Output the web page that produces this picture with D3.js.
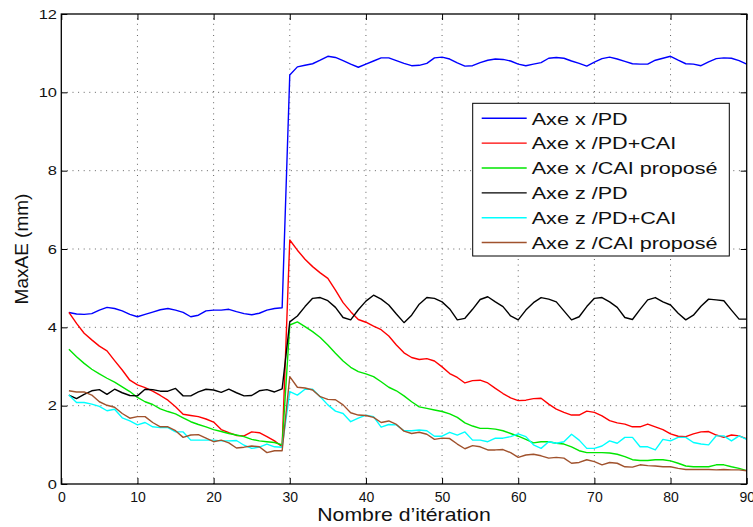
<!DOCTYPE html>
<html>
<head>
<meta charset="utf-8">
<script src="https://cdn.jsdelivr.net/npm/d3@7"></script>
<style>
  html, body { margin: 0; padding: 0; background: #fff; }
  svg { display: block; font-family: "Liberation Sans", Arial, Helvetica, sans-serif; }
</style>
</head>
<body>
<svg id="chart" width="753" height="527"></svg>
<script>
// Iteration index (x axis)
const iterations = d3.range(1, 91);

// MaxAE per iteration (mm)
const axeX_PD = [
  4.38,4.34,4.33,4.35,4.44,4.51,4.48,4.42,4.33,4.27,4.33,4.39,4.45,4.48,4.44,4.38,4.27,4.31,4.42,4.44,
  4.44,4.46,4.40,4.35,4.32,4.36,4.44,4.48,4.50,
  10.44,10.65,10.69,10.73,10.82,10.92,10.89,10.81,10.72,10.64,10.72,10.80,10.88,10.88,10.81,10.74,10.68,
  10.69,10.74,10.88,10.90,10.85,10.75,10.67,10.68,10.76,10.82,10.85,10.84,10.80,10.72,10.68,10.72,10.76,
  10.87,10.89,10.87,10.80,10.74,10.67,10.77,10.86,10.90,10.85,10.79,10.73,10.72,10.72,10.82,10.87,10.92,
  10.82,10.73,10.72,10.68,10.78,10.86,10.88,10.87,10.81,10.72
];
const axeX_PDCAI = [
  4.38,4.10,3.85,3.68,3.52,3.40,3.15,2.91,2.65,2.53,2.46,2.37,2.26,2.14,1.97,1.78,1.75,1.72,1.66,1.58,
  1.39,1.31,1.24,1.23,1.33,1.31,1.21,1.10,0.95,
  6.23,5.97,5.74,5.55,5.39,5.25,4.95,4.63,4.40,4.20,4.13,4.03,3.94,3.78,3.55,3.35,3.23,3.18,3.20,3.14,
  2.99,2.82,2.72,2.58,2.64,2.65,2.58,2.44,2.31,2.20,2.13,
  2.14,2.18,2.19,2.04,1.91,1.83,1.76,1.76,1.86,1.83,1.74,1.62,1.56,1.53,1.46,1.46,1.53,1.46,1.39,1.28,
  1.22,1.21,1.28,1.33,1.34,1.25,1.19,1.25,1.23,1.15
];
const axeX_CAI = [
  3.44,3.25,3.08,2.93,2.81,2.70,2.60,2.48,2.36,2.21,2.10,2.03,1.92,1.85,1.79,1.69,1.59,1.52,1.46,1.39,
  1.34,1.29,1.25,1.21,1.14,1.10,1.08,1.06,1.00,
  4.06,4.14,4.02,3.89,3.74,3.55,3.34,3.14,2.98,2.87,2.81,2.74,2.61,2.47,2.38,2.25,2.10,1.97,1.93,1.89,
  1.85,1.79,1.70,1.56,1.48,1.42,1.42,1.40,1.36,1.29,1.22,
  1.14,1.05,1.08,1.08,1.04,1.02,0.95,0.85,0.80,0.80,0.80,0.79,0.76,0.70,0.62,0.60,0.60,0.62,0.62,0.59,
  0.53,0.46,0.44,0.44,0.44,0.49,0.49,0.44,0.40,0.34
];
const axeZ_PD = [
  2.27,2.18,2.29,2.38,2.41,2.29,2.42,2.33,2.26,2.25,2.42,2.41,2.37,2.37,2.44,2.25,2.25,2.35,2.42,2.40,
  2.34,2.42,2.33,2.25,2.26,2.38,2.41,2.35,2.43,
  4.14,4.29,4.53,4.74,4.76,4.68,4.51,4.25,4.19,4.45,4.67,4.82,4.72,4.57,4.34,4.12,4.31,4.59,4.76,4.74,
  4.65,4.47,4.19,4.23,4.46,4.71,4.78,4.65,4.53,4.29,4.19,
  4.44,4.63,4.76,4.72,4.65,4.42,4.19,4.27,4.53,4.74,4.76,4.65,4.51,4.25,4.20,4.46,4.70,4.76,4.65,4.57,
  4.36,4.19,4.31,4.54,4.72,4.70,4.68,4.44,4.21,4.21
];
const axeZ_PDCAI = [
  2.27,2.08,2.08,2.04,1.98,1.87,1.91,1.69,1.61,1.51,1.57,1.46,1.44,1.44,1.33,1.33,1.12,1.12,1.12,1.12,
  1.10,1.10,1.11,0.99,0.91,0.94,1.02,0.95,0.94,
  2.36,2.27,2.42,2.42,2.23,2.02,1.86,1.80,1.59,1.68,1.76,1.72,1.45,1.52,1.51,1.36,1.36,1.38,1.36,1.22,
  1.22,1.32,1.25,1.33,1.12,1.12,1.08,1.17,1.17,1.21,1.28,
  1.21,1.00,0.91,1.08,1.04,1.08,1.27,1.12,0.91,0.91,0.97,1.10,1.04,1.19,1.19,0.95,0.95,0.87,1.14,1.10,
  1.19,1.19,1.06,1.02,1.00,1.23,1.23,1.10,1.23,1.14
];
const axeZ_CAI = [
  2.38,2.35,2.35,2.27,2.10,2.01,1.96,1.80,1.68,1.72,1.72,1.57,1.46,1.46,1.36,1.19,1.25,1.26,1.17,1.08,
  1.12,1.05,0.92,0.94,0.97,0.95,0.80,0.85,0.85,
  2.74,2.47,2.45,2.40,2.23,2.16,2.15,2.02,1.82,1.76,1.75,1.70,1.57,1.61,1.52,1.35,1.29,1.32,1.27,1.14,
  1.17,1.16,1.02,0.90,0.98,0.95,0.87,0.87,0.88,0.80,0.68,
  0.74,0.76,0.72,0.66,0.68,0.66,0.53,0.55,0.62,0.57,0.49,0.55,0.53,0.44,0.43,0.49,0.47,0.46,0.44,0.44,
  0.40,0.37,0.37,0.37,0.37,0.36,0.37,0.36,0.36,0.34
];

const seriesNames = ["Axe x /PD", "Axe x /PD+CAI", "Axe x /CAI proposé",
                     "Axe z /PD", "Axe z /PD+CAI", "Axe z /CAI proposé"];
const seriesValues = [axeX_PD, axeX_PDCAI, axeX_CAI, axeZ_PD, axeZ_PDCAI, axeZ_CAI];
const seriesColors = ["#0000ff", "#ff0000", "#00e600", "#000000", "#00ffff", "#a0522d"];

const xTicks = [0, 10, 20, 30, 40, 50, 60, 70, 80, 90];
const yTicks = [0, 2, 4, 6, 8, 10, 12];
const xLabel = "Nombre d’itération";
const yLabel = "MaxAE (mm)";

const svg = d3.select("#chart");
const L = 61.3, R = 746.7, T = 14, B = 484;

const x = d3.scaleLinear().domain([0, 90]).range([L, R]);
const y = d3.scaleLinear().domain([0, 12]).range([B, T]);

// dotted grid
const grid = svg.append("g").attr("stroke", "#333").attr("stroke-width", 1)
  .attr("stroke-dasharray", "1,4.6").attr("opacity", 0.75);
grid.selectAll(".gx").data(xTicks.slice(1, -1)).join("line")
  .attr("x1", d => x(d)).attr("x2", d => x(d)).attr("y1", B).attr("y2", T);
grid.selectAll(".gy").data(yTicks.slice(1, -1)).join("line")
  .attr("y1", d => y(d)).attr("y2", d => y(d)).attr("x1", L).attr("x2", R);

// data lines
const line = d3.line().x((d, i) => x(iterations[i])).y(d => y(d));
svg.append("g").selectAll("path").data(seriesValues).join("path")
  .attr("d", d => line(d))
  .attr("fill", "none")
  .attr("stroke", (d, i) => seriesColors[i])
  .attr("stroke-width", 1.4)
  .attr("stroke-linejoin", "round");

// axes with inward ticks
const tickLen = 6;
const gB = svg.append("g").attr("transform", `translate(0,${B})`)
  .call(d3.axisBottom(x).tickValues(xTicks).tickSizeInner(-tickLen).tickSizeOuter(0).tickPadding(8.5));
const gL = svg.append("g").attr("transform", `translate(${L},0)`)
  .call(d3.axisLeft(y).tickValues(yTicks).tickSizeInner(-tickLen).tickSizeOuter(0));
const gT = svg.append("g").attr("transform", `translate(0,${T})`)
  .call(d3.axisTop(x).tickValues(xTicks).tickSizeInner(-tickLen).tickSizeOuter(0).tickFormat(""));
const gR = svg.append("g").attr("transform", `translate(${R},0)`)
  .call(d3.axisRight(y).tickValues(yTicks).tickSizeInner(-tickLen).tickSizeOuter(0).tickFormat(""));

[gB, gL, gT, gR].forEach(g => {
  g.select(".domain").remove();
  g.selectAll(".tick line").attr("stroke", "#000").attr("stroke-width", 1);
});

gB.selectAll(".tick text")
  .attr("font-size", 14).attr("fill", "#111")
  .attr("font-family", "Liberation Sans, Arial, sans-serif");
gL.selectAll(".tick text")
  .attr("x", 0).attr("font-size", 13.5).attr("fill", "#111")
  .attr("font-family", "Liberation Sans, Arial, sans-serif")
  .attr("transform", "translate(-4.3,0) scale(1.22,1)");

// plot frame
svg.append("rect").attr("x", L).attr("y", T).attr("width", R - L).attr("height", B - T)
  .attr("fill", "none").attr("stroke", "#000").attr("stroke-width", 1.3);

// axis titles
svg.append("text").attr("x", x(45)).attr("y", 521.5).attr("text-anchor", "middle")
  .attr("font-size", 18).attr("fill", "#111")
  .attr("transform", `translate(${x(45)},0) scale(1.18,1) translate(${-x(45)},0)`)
  .text(xLabel);
svg.append("text").attr("transform", `translate(28,${(T + B) / 2}) rotate(-90)`)
  .attr("text-anchor", "middle").attr("font-size", 19).attr("fill", "#111")
  .text(yLabel);

// legend
const lg = svg.append("g");
lg.append("rect").attr("x", 472.7).attr("y", 103.3).attr("width", 256.6).attr("height", 152.7)
  .attr("fill", "#fff").attr("stroke", "#000").attr("stroke-width", 1);
const item = lg.selectAll(".item").data(seriesNames).join("g")
  .attr("transform", (d, i) => `translate(0,${118.3 + i * 24.85})`);
item.append("line").attr("x1", 481.7).attr("x2", 526.7)
  .attr("stroke", (d, i) => seriesColors[i]).attr("stroke-width", 1.4);
item.append("text")
  .attr("transform", "translate(531.7,6.2) scale(1.27,1)")
  .attr("font-size", 17).attr("fill", "#111")
  .text(d => d);
</script>
</body>
</html>
